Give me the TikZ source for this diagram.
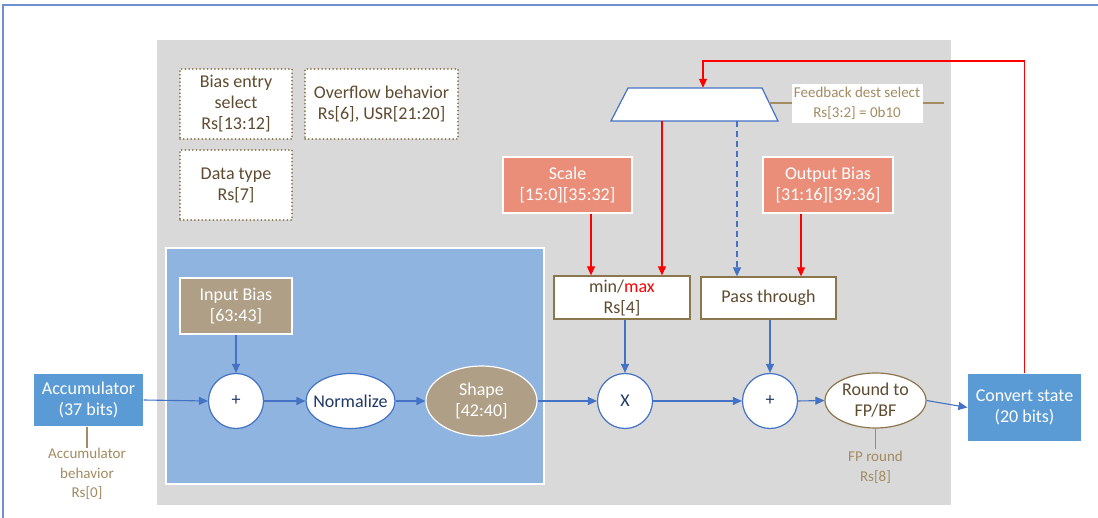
\documentclass[tikz,border=0pt]{standalone}
\usepackage{fontspec}
\setmainfont{Carlito}
\usetikzlibrary{arrows.meta,shapes.geometric,calc}
\definecolor{panelgray}{RGB}{217,217,217}
\definecolor{stageblue}{RGB}{143,180,223}
\definecolor{accblue}{RGB}{91,155,213}
\definecolor{salmon}{RGB}{234,142,122}
\definecolor{tan}{RGB}{176,159,135}
\definecolor{brownline}{RGB}{140,118,78}
\definecolor{browntext}{RGB}{94,75,48}
\definecolor{labelbrown}{RGB}{163,139,98}
\definecolor{navy}{RGB}{32,56,100}
\definecolor{flowblue}{RGB}{68,114,196}
\definecolor{framblue}{RGB}{111,143,207}
\begin{document}
\begin{tikzpicture}[x=1pt,y=-1pt,
  txt/.style={font=\fontsize{18}{21}\selectfont,align=center},
  small/.style={font=\fontsize{15}{19.5}\selectfont,align=center},
  setting/.style={txt,draw=brownline,line width=1.8pt,fill=white,
    dash pattern=on 0.1pt off 3.6pt,line cap=round,inner sep=0pt,text=browntext},
  solid box/.style={txt,draw=white,line width=1.2pt,inner sep=0pt,text=white},
  opbox/.style={txt,draw=brownline,line width=1.3pt,fill=white,inner sep=0pt,text=browntext},
  op/.style={txt,circle,draw=flowblue,line width=1.2pt,fill=white,inner sep=0pt,
    minimum size=55pt,text=navy},
  flow/.style={draw=flowblue,line width=1.1pt,-{Triangle[length=9pt,width=8pt]}},
  ctrl/.style={draw=red,line width=1.1pt,-{Triangle[length=9pt,width=8pt]}},
  note/.style={draw=labelbrown,line width=1.1pt}]
\useasboundingbox (0,0) rectangle (1098,518);
\fill[white] (0,0) rectangle (1098,518);
% frame
\draw[framblue,line width=2pt] (3,518) -- (3,5) -- (1098,5);
% datapath panel
\fill[panelgray] (157,40) rectangle (951,505);
\draw[white,line width=1.5pt,fill=stageblue] (166,248) rectangle (544,484);

% configuration fields
\node[setting,minimum width=112pt,minimum height=70pt] (bsel) at (236,104) {Bias entry\\select\\Rs[13:12]};
\node[setting,minimum width=153pt,minimum height=70pt] (ovf) at (381.5,104) {Overflow behavior\\Rs[6], USR[21:20]};
\node[setting,minimum width=112pt,minimum height=70pt] (dtype) at (236,185) {Data type\\Rs[7]};

% feedback multiplexer
\node[minimum width=167pt,minimum height=33pt,inner sep=0pt] (mux) at (694.5,104.5) {};
\draw[flowblue,line width=1.2pt,fill=white] (628,88) -- (762,88) -- (778,121) -- (611,121) -- cycle;
\draw[note] (769,103) -- (944,103);
\node[small,fill=white,text=labelbrown,inner sep=1pt,
  minimum width=131pt,minimum height=39pt] (fbsel) at (857,103.5) {Feedback dest select\\Rs[3:2] = 0b10};

% parameter boxes
\node[solid box,fill=salmon,minimum width=129pt,minimum height=56pt] (scale) at (567.5,185) {Scale\\{[}15:0{]}{[}35:32{]}};
\node[solid box,fill=salmon,minimum width=130pt,minimum height=56pt] (obias) at (828,185) {Output Bias\\{[}31:16{]}{[}39:36{]}};
\node[opbox,minimum width=136pt,minimum height=43pt] (minmax) at (622,297.5) {min/\textcolor{red}{max}\\Rs[4]};
\node[opbox,minimum width=135pt,minimum height=42pt] (pass) at (768.5,298) {Pass through};
\node[solid box,fill=tan,minimum width=112pt,minimum height=56pt] (ibias) at (236,306) {Input Bias\\{[}63:43{]}};

% main datapath
\node[solid box,fill=accblue,draw=none,minimum width=109pt,minimum height=52pt] (acc) at (88.5,400) {Accumulator\\(37 bits)};
\node[op] (add1) at (236,401) {+};
\node[txt,ellipse,draw=flowblue,line width=1.2pt,fill=white,inner sep=0pt,
  minimum width=89pt,minimum height=55pt,text=navy] (norm) at (350.5,401) {\makebox[0pt]{Normalize}};
\node[txt,ellipse,draw=white,line width=1.2pt,fill=tan,inner sep=0pt,
  minimum width=111pt,minimum height=70pt,text=white] (shape) at (481.5,401) {Shape\\{[}42:40{]}};
\node[op] (mul) at (625,401) {X};
\node[op] (add2) at (770,401) {+};
\node[txt,ellipse,draw=brownline,line width=1.2pt,fill=white,inner sep=0pt,
  minimum width=101pt,minimum height=55pt,text=browntext] (rnd) at (875.5,400.5) {Round to\\FP/BF};
\node[solid box,fill=accblue,draw=none,minimum width=113pt,minimum height=67pt] (conv) at (1024.5,407.5) {Convert state\\(20 bits)};

% side notes
\coordinate (accn) at (87,448);
\node[small,text=labelbrown,anchor=north] (accbeh) at (87,445) {Accumulator\\behavior\\Rs[0]};
\draw[note] (acc.south -| accn) -- (accn);
\coordinate (rndn) at (875.5,449);
\node[small,text=labelbrown,anchor=north] (fpr) at (875.5,448) {FP round\\Rs[8]};
\draw[note] (rnd.south) -- (rndn);

% data flow
\draw[flow] (acc.east) -- (add1.west);
\draw[flow] (ibias.south) -- (add1.north);
\draw[flow] (add1.east) -- (norm.west);
\draw[flow] (norm.east) -- (shape.west);
\draw[flow] (shape.east) -- (mul.west);
\draw[flow] (minmax.south -| mul) -- (mul.north);
\draw[flow] (mul.east) -- (add2.west);
\draw[flow] (pass.south -| add2) -- (add2.north);
\draw[flow] (add2.east) -- (rnd.west);
\draw[flow] (rnd.east) -- (conv.west);

% control flow
\coordinate (sx) at (591,0);
\coordinate (mx) at (662,0);
\coordinate (px) at (737,0);
\coordinate (ox) at (801,0);
\coordinate (fb) at (703,61);
\draw[ctrl] (scale.south -| sx) -- (minmax.north -| sx);
\draw[ctrl] (mux.south -| mx) -- (minmax.north -| mx);
\draw[flow,dash pattern=on 6pt off 4pt] (mux.south -| px) -- (pass.north -| px);
\draw[ctrl] (obias.south -| ox) -- (pass.north -| ox);
\draw[ctrl] (conv.north) |- (fb) -- (fb |- mux.north);
\end{tikzpicture}
\end{document}
